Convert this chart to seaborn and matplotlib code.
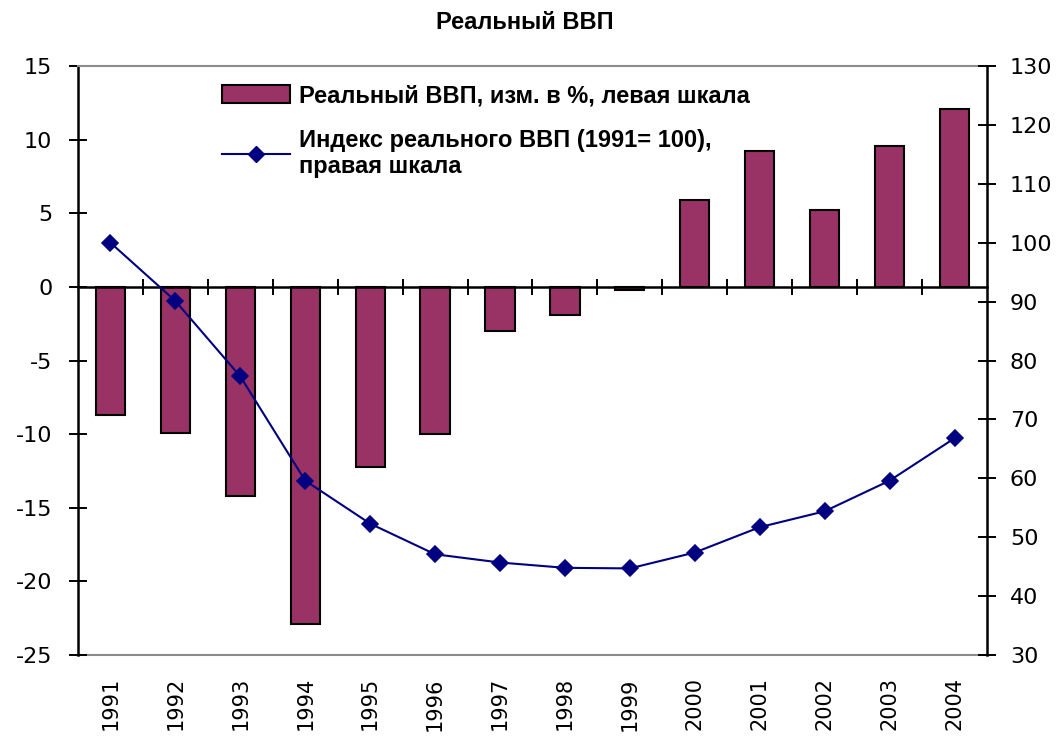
import numpy as np
import pandas as pd
import matplotlib
matplotlib.use("Agg")
import matplotlib.pyplot as plt
from matplotlib.patches import Patch
from matplotlib.lines import Line2D
import seaborn as sns

# Данные
years = ["1991", "1992", "1993", "1994", "1995", "1996", "1997",
         "1998", "1999", "2000", "2001", "2002", "2003", "2004"]
gdp_change = [-8.7, -9.9, -14.2, -22.9, -12.2, -10.0, -3.0,
              -1.9, -0.2, 5.9, 9.2, 5.2, 9.6, 12.1]
gdp_index = [100, 90.1, 77.3, 59.6, 52.3, 47.1, 45.7,
             44.8, 44.7, 47.4, 51.7, 54.4, 59.6, 66.8]
left_ticks = [-25, -20, -15, -10, -5, 0, 5, 10, 15]
right_ticks = [30, 40, 50, 60, 70, 80, 90, 100, 110, 120, 130]

label_bar = "Реальный ВВП, изм. в %, левая шкала"
label_line = "Индекс реального ВВП (1991= 100),\nправая шкала"

df = pd.DataFrame({"year": years, "change": gdp_change, "index": gdp_index})

bar_color = "#993366"
line_color = "#000080"
frame_gray = "#8c8c8c"

plt.rcParams["font.family"] = ["DejaVu Sans"]
plt.rcParams["axes.unicode_minus"] = False

fig, ax = plt.subplots(figsize=(10.64, 7.46), dpi=100)
fig.subplots_adjust(left=0.0733, right=0.9276, bottom=0.122, top=0.9115)

# Столбцы - левая шкала
sns.barplot(data=df, x="year", y="change", color=bar_color, saturation=1,
            width=0.45, edgecolor="black", linewidth=1.5, ax=ax)

# Линия - правая шкала
ax2 = ax.twinx()
sns.pointplot(data=df, x="year", y="index", color=line_color, markers="D",
              markersize=8, linewidth=1.5, errorbar=None, ax=ax2)

n = len(years)
ax.set_xlim(-0.5, n - 0.5)
ax.set_ylim(-25, 15)
ax2.set_ylim(30, 130)
ax.set_yticks(left_ticks)
ax2.set_yticks(right_ticks)
ax.set_xlabel("")
ax.set_ylabel("")
ax2.set_xlabel("")
ax2.set_ylabel("")

# Ось X по нулевой линии с делениями между категориями
ax.spines["bottom"].set_position(("data", 0))
ax.spines["bottom"].set_color("black")
ax.spines["bottom"].set_linewidth(1.8)
ax.set_xticks(np.arange(n - 1) + 0.5)
ax.set_xticklabels([])
ax.tick_params(axis="x", direction="inout", length=12, width=1.4, color="black")

# Подписи годов внизу
secax = ax.secondary_xaxis("bottom")
secax.set_xticks(np.arange(n), labels=years)
secax.tick_params(length=0, pad=16, labelsize=15, labelrotation=90)
secax.spines["bottom"].set_color(frame_gray)
secax.spines["bottom"].set_linewidth(1.5)

# Рамка
ax.spines["top"].set_color(frame_gray)
ax.spines["top"].set_linewidth(1.5)
ax.spines["right"].set_visible(False)
ax.spines["left"].set_color("black")
ax.spines["left"].set_linewidth(1.8)
for s in ["top", "bottom", "left"]:
    ax2.spines[s].set_visible(False)
ax2.spines["right"].set_color("black")
ax2.spines["right"].set_linewidth(1.8)

ax.tick_params(axis="y", direction="inout", length=13, width=1.4,
               labelsize=16, pad=12)
ax2.tick_params(axis="y", direction="inout", length=13, width=1.4,
                labelsize=16, pad=10)

# Легенда
handles = [Patch(facecolor=bar_color, edgecolor="black", linewidth=1.5),
           Line2D([], [], color=line_color, marker="D", markersize=8,
                  linewidth=1.5)]
ax2.legend(handles, [label_bar, label_line], loc="upper left",
           bbox_to_anchor=(0.148, 0.985), frameon=False,
           prop={"family": "Liberation Sans", "weight": "bold", "size": 17},
           handlelength=2.9, handleheight=0.8, handletextpad=0.35,
           labelspacing=0.9, borderaxespad=0)

fig.suptitle("Реальный ВВП", x=0.4934, y=0.9705, va="center",
             fontfamily="Liberation Sans", fontweight="bold", fontsize=17)

plt.savefig("out.png", dpi=100)
